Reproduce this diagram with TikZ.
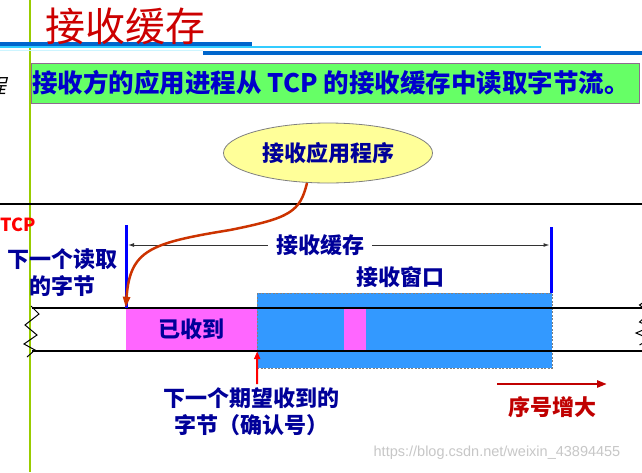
\documentclass[tikz,border=0pt]{standalone}
\usepackage{fontspec}
\setmainfont{Noto Sans CJK SC}
\newfontfamily\wmfont{Liberation Sans}
\usetikzlibrary{arrows.meta,shapes.geometric}
\definecolor{navy}{HTML}{000099}
\definecolor{introblue}{HTML}{0000CC}
\definecolor{titlered}{HTML}{CC0000}
\definecolor{vgreen}{HTML}{99CC00}
\definecolor{hblue}{HTML}{0066CC}
\definecolor{hcyan}{HTML}{33CCFF}
\definecolor{hpale}{HTML}{CCF5FF}
\definecolor{boxgreen}{HTML}{66FF66}
\definecolor{boxborder}{HTML}{8E6B8E}
\definecolor{ellfill}{HTML}{FFFF99}
\definecolor{winblue}{HTML}{3399FF}
\definecolor{recvmag}{HTML}{FF66FF}
\definecolor{curveor}{HTML}{CC3300}
\definecolor{seqred}{HTML}{C00000}
\tikzset{
  lbl/.style={font=\bfseries\fontsize{22}{27}\selectfont, text=navy, align=center, inner sep=0pt},
  fillbox/.style={inner sep=0pt, draw=none},
  stripline/.style={line width=1.2pt, black},
  bluebar/.style={line width=3pt, blue},
  zz/.style={line width=1pt, black, line join=miter},
}
\begin{document}
\begin{tikzpicture}[x=1pt,y=-1pt]
\useasboundingbox (0,0) rectangle (642,472);
\clip (0,0) rectangle (642,472);
\fill[white] (0,0) rectangle (642,472);

% page decoration
\draw[line width=2.8pt, vgreen] (30,0) -- (30,472);
\draw[line width=3.5pt, hblue] (0,44) -- (252,44);
\draw[line width=1.2pt, hcyan] (0,47) -- (541,47);
\draw[line width=1pt, hpale] (0,50.5) -- (203,50.5);
\draw[line width=4pt, hblue] (203,53) -- (642,53);
\node[font=\fontsize{40}{48}\selectfont, text=titlered, inner sep=0pt] (title) at (125,26) {接收缓存};
\node[font=\itshape\fontsize{20}{24}\selectfont, xslant=0.25, anchor=east, inner sep=0pt] (frag) at (9,86) {程};

\node[draw=boxborder, fill=boxgreen, line width=0.8pt, minimum width=608pt, minimum height=40pt, inner sep=0pt] (intro) at (335.5,83) {};
\node[font=\bfseries\fontsize{25.5}{30}\selectfont, text=introblue, inner sep=0pt] (introtext) at (331,83) {接收方的应用进程从 TCP 的接收缓存中读取字节流。};

% application ellipse
\node[ellipse, draw=gray, fill=ellfill, line width=0.8pt, minimum width=209pt, minimum height=60pt, inner sep=0pt,
      font=\bfseries\fontsize{22}{27}\selectfont, text=navy] (app) at (328,153) {接收应用程序};

% TCP boundary
\coordinate (bl) at (0,204);
\coordinate (br) at (642,204);
\draw[line width=2.5pt] (bl) -- (br);
\node[font=\bfseries\fontsize{18}{20}\selectfont, text=red, inner sep=0pt, anchor=west] (tcp) at (0.5,225) {TCP};

% buffer regions
\node[fillbox, fill=winblue, draw=gray, dash pattern=on 2pt off 1.5pt, line width=0.8pt,
      minimum width=295pt, minimum height=75pt] (win) at (404.5,330.5) {};
\node[fillbox, fill=recvmag, minimum width=131pt, minimum height=43pt, lbl] (recv) at (191.5,329.5) {已收到};
\node[fillbox, fill=recvmag, minimum width=22pt, minimum height=43pt] (gap) at (355,329.5) {};

% strip lines
\coordinate (s1l) at (32,308);
\coordinate (s1r) at (642,308);
\coordinate (s2l) at (32,351);
\coordinate (s2r) at (642,351);
\draw[stripline] (s1l) -- (s1r);
\draw[stripline] (s2l) -- (s2r);
\draw[zz] (31,306) -- (39,314) -- (25,325) -- (37,335) -- (24,344) -- (35,350) -- (27,357);
\draw[zz] (650,298) -- (639.5,305) -- (650,313) -- (639.5,322) -- (650,327) -- (636,333) -- (650,339) -- (639.5,345);

% blue bars and dimension
\coordinate (lt) at (126,225);
\coordinate (lb) at (126,308);
\coordinate (rt) at (551,227);
\coordinate (rb) at (551,293);
\draw[bluebar] (lt) -- (lb);
\draw[bluebar] (rt) -- (rb);
\coordinate (d1) at (128,245);
\coordinate (d2) at (549.5,245);
\draw[line width=1pt, black!80, {Latex[length=6pt,width=4pt]}-{Latex[length=6pt,width=4pt]}] (d1) -- (d2);
\node[lbl, fill=white, inner xsep=8pt, inner ysep=1pt] (buf) at (320,245) {接收缓存};
\node[lbl] (rwin) at (400,277) {接收窗口};

% labels
\node[lbl] (nextread) at (62,273) {下一个读取\\的字节};
\node[lbl] (nextexp) at (251,411.5) {下一个期望收到的\\字节（确认号）};
\node[font=\bfseries\fontsize{22}{27}\selectfont, text=seqred, inner sep=0pt] (seq) at (552,407) {序号增大};

% arrows
\coordinate (cstart) at (307,183);
\draw[line width=2.5pt, curveor, -{Triangle[length=11pt,width=7pt]}]
  (cstart) .. controls (300,212) and (290,218) .. (230,230)
           .. controls (150,243) and (130,250) .. (recv.north west);
\coordinate (ackfoot) at (257,384);
\draw[line width=2pt, red, -{Triangle[length=8pt,width=6pt]}] (ackfoot) -- (recv.south east);
\coordinate (sq1) at (497,384);
\coordinate (sq2) at (607,384);
\draw[line width=2.5pt, seqred, -{Triangle[length=10pt,width=7pt]}] (sq1) -- (sq2);

% watermark
\node[font=\wmfont\fontsize{14.5}{16}\selectfont, text=black!22, inner sep=0pt] (wm) at (497,453) {https://blog.csdn.net/weixin\_43894455};
\end{tikzpicture}
\end{document}
